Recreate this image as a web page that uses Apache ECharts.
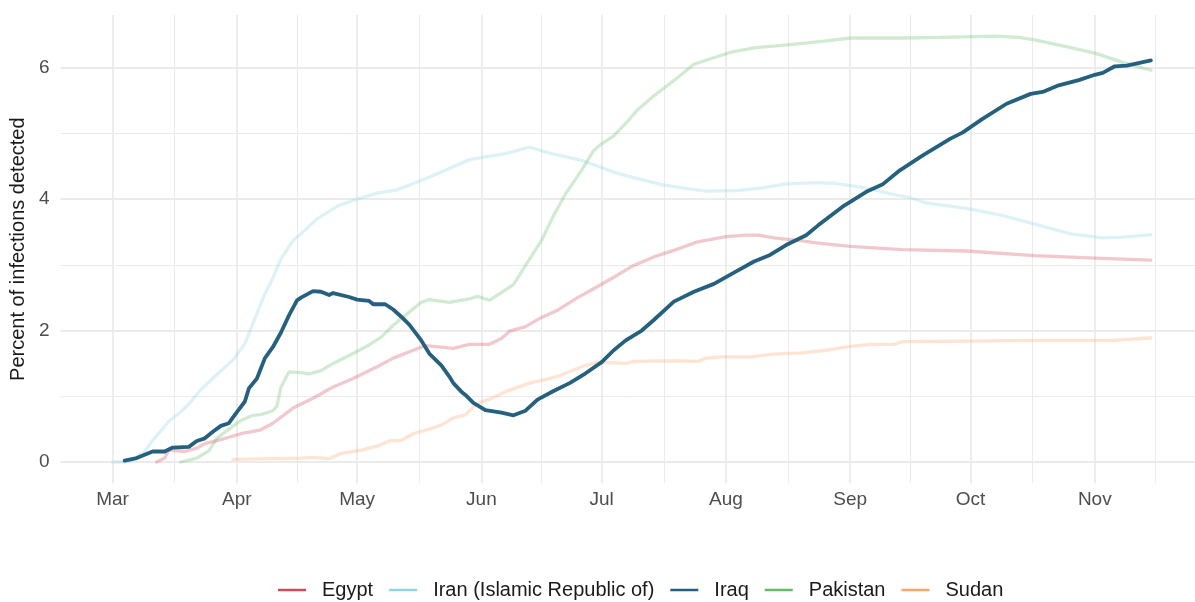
<!DOCTYPE html>
<html>
<head>
<meta charset="utf-8">
<script src="https://cdn.jsdelivr.net/npm/echarts@6/dist/echarts.min.js"></script>
<style>
html,body{margin:0;padding:0;background:#fff;}
#chart{width:1195px;height:602px;}
</style>
</head>
<body>
<div id="chart"></div>
<script>
// ---- data (date, percent of infections detected) ----
const egypt = [
 ['2020-03-12',0.00],['2020-03-14',0.06],['2020-03-15',0.18],['2020-03-19',0.16],['2020-03-22',0.21],
 ['2020-03-24',0.28],['2020-03-28',0.34],['2020-04-02',0.43],['2020-04-07',0.49],['2020-04-10',0.59],
 ['2020-04-15',0.82],['2020-04-20',0.97],['2020-04-25',1.14],['2020-04-30',1.27],['2020-05-06',1.45],
 ['2020-05-10',1.58],['2020-05-15',1.70],['2020-05-18',1.77],['2020-05-20',1.76],['2020-05-25',1.73],
 ['2020-05-29',1.79],['2020-06-03',1.79],['2020-06-06',1.88],['2020-06-08',1.99],['2020-06-12',2.06],
 ['2020-06-16',2.20],['2020-06-20',2.31],['2020-06-25',2.50],['2020-06-30',2.67],['2020-07-04',2.81],
 ['2020-07-09',2.99],['2020-07-14',3.12],['2020-07-19',3.22],['2020-07-25',3.35],['2020-08-01',3.43],
 ['2020-08-06',3.45],['2020-08-09',3.45],['2020-08-13',3.41],['2020-08-19',3.37],['2020-08-24',3.33],
 ['2020-09-01',3.28],['2020-09-14',3.23],['2020-09-30',3.21],['2020-10-17',3.14],['2020-11-01',3.10],
 ['2020-11-15',3.07]
];
const iran = [
 ['2020-03-01',0.00],['2020-03-04',0.00],['2020-03-06',0.03],['2020-03-09',0.16],['2020-03-11',0.33],
 ['2020-03-13',0.47],['2020-03-15',0.62],['2020-03-18',0.76],['2020-03-20',0.88],['2020-03-23',1.10],
 ['2020-03-27',1.33],['2020-03-31',1.55],['2020-04-03',1.80],['2020-04-06',2.26],['2020-04-08',2.56],
 ['2020-04-10',2.80],['2020-04-12',3.09],['2020-04-15',3.37],['2020-04-17',3.47],['2020-04-21',3.70],
 ['2020-04-26',3.89],['2020-05-01',4.00],['2020-05-06',4.09],['2020-05-11',4.14],['2020-05-16',4.26],
 ['2020-05-22',4.41],['2020-05-29',4.60],['2020-06-02',4.64],['2020-06-07',4.69],['2020-06-13',4.79],
 ['2020-06-18',4.70],['2020-06-26',4.59],['2020-07-04',4.41],['2020-07-08',4.34],['2020-07-12',4.28],
 ['2020-07-16',4.22],['2020-07-21',4.17],['2020-07-27',4.12],['2020-08-04',4.13],['2020-08-10',4.17],
 ['2020-08-16',4.23],['2020-08-24',4.25],['2020-08-28',4.24],['2020-09-03',4.19],['2020-09-07',4.14],
 ['2020-09-11',4.08],['2020-09-16',4.02],['2020-09-20',3.94],['2020-09-30',3.86],['2020-10-09',3.75],
 ['2020-10-17',3.62],['2020-10-26',3.47],['2020-11-03',3.41],['2020-11-08',3.42],['2020-11-15',3.46]
];
const iraq = [
 ['2020-03-04',0.02],['2020-03-07',0.06],['2020-03-11',0.16],['2020-03-14',0.16],['2020-03-16',0.22],
 ['2020-03-20',0.23],['2020-03-22',0.32],['2020-03-24',0.36],['2020-03-26',0.46],['2020-03-28',0.55],
 ['2020-03-30',0.59],['2020-04-01',0.76],['2020-04-03',0.92],['2020-04-04',1.12],['2020-04-06',1.27],
 ['2020-04-08',1.58],['2020-04-10',1.75],['2020-04-12',1.97],['2020-04-14',2.23],['2020-04-16',2.46],
 ['2020-04-17',2.50],['2020-04-20',2.60],['2020-04-22',2.59],['2020-04-24',2.54],['2020-04-25',2.57],
 ['2020-04-29',2.51],['2020-05-01',2.47],['2020-05-04',2.45],['2020-05-05',2.40],['2020-05-08',2.40],
 ['2020-05-10',2.32],['2020-05-12',2.21],['2020-05-14',2.09],['2020-05-17',1.85],['2020-05-19',1.65],
 ['2020-05-22',1.47],['2020-05-24',1.30],['2020-05-25',1.20],['2020-05-27',1.07],['2020-05-28',1.02],
 ['2020-05-30',0.90],['2020-06-02',0.79],['2020-06-06',0.75],['2020-06-09',0.71],['2020-06-12',0.78],
 ['2020-06-15',0.95],['2020-06-19',1.08],['2020-06-23',1.20],['2020-06-27',1.35],['2020-07-01',1.52],
 ['2020-07-04',1.70],['2020-07-07',1.85],['2020-07-11',2.00],['2020-07-14',2.16],['2020-07-19',2.44],
 ['2020-07-24',2.59],['2020-07-29',2.71],['2020-08-03',2.88],['2020-08-08',3.05],['2020-08-12',3.15],
 ['2020-08-16',3.30],['2020-08-21',3.45],['2020-08-24',3.60],['2020-08-30',3.88],['2020-09-05',4.11],
 ['2020-09-09',4.22],['2020-09-13',4.42],['2020-09-19',4.66],['2020-09-26',4.92],['2020-09-29',5.01],
 ['2020-10-04',5.22],['2020-10-10',5.45],['2020-10-16',5.60],['2020-10-19',5.63],['2020-10-23',5.73],
 ['2020-10-28',5.81],['2020-11-01',5.89],['2020-11-03',5.92],['2020-11-06',6.02],['2020-11-09',6.03],
 ['2020-11-15',6.11]
];
const pakistan = [
 ['2020-03-18',0.00],['2020-03-22',0.06],['2020-03-25',0.17],['2020-03-27',0.36],['2020-03-30',0.50],
 ['2020-04-02',0.63],['2020-04-05',0.71],['2020-04-07',0.72],['2020-04-10',0.78],['2020-04-11',0.85],
 ['2020-04-12',1.14],['2020-04-14',1.37],['2020-04-17',1.36],['2020-04-19',1.34],['2020-04-22',1.39],
 ['2020-04-25',1.50],['2020-04-30',1.65],['2020-05-04',1.78],['2020-05-07',1.90],['2020-05-10',2.08],
 ['2020-05-14',2.28],['2020-05-17',2.43],['2020-05-19',2.47],['2020-05-24',2.43],['2020-05-29',2.48],
 ['2020-05-31',2.52],['2020-06-03',2.46],['2020-06-07',2.62],['2020-06-09',2.70],['2020-06-12',2.99],
 ['2020-06-16',3.37],['2020-06-19',3.75],['2020-06-22',4.08],['2020-06-26',4.44],['2020-06-29',4.74],
 ['2020-07-01',4.84],['2020-07-04',4.96],['2020-07-07',5.15],['2020-07-10',5.36],['2020-07-14',5.57],
 ['2020-07-20',5.85],['2020-07-24',6.05],['2020-07-28',6.13],['2020-08-02',6.23],['2020-08-08',6.30],
 ['2020-08-17',6.35],['2020-08-25',6.40],['2020-09-01',6.45],['2020-09-14',6.45],['2020-09-24',6.46],
 ['2020-10-07',6.48],['2020-10-13',6.46],['2020-10-17',6.42],['2020-10-24',6.33],['2020-11-01',6.22],
 ['2020-11-08',6.08],['2020-11-15',5.96]
];
const sudan = [
 ['2020-03-31',0.04],['2020-04-09',0.05],['2020-04-17',0.06],['2020-04-20',0.07],['2020-04-24',0.05],
 ['2020-04-27',0.13],['2020-05-02',0.18],['2020-05-06',0.24],['2020-05-09',0.32],['2020-05-12',0.33],
 ['2020-05-15',0.43],['2020-05-19',0.50],['2020-05-22',0.56],['2020-05-25',0.67],['2020-05-28',0.72],
 ['2020-05-31',0.89],['2020-06-04',0.98],['2020-06-07',1.07],['2020-06-13',1.20],['2020-06-20',1.30],
 ['2020-06-26',1.45],['2020-06-30',1.52],['2020-07-07',1.50],['2020-07-09',1.53],['2020-07-19',1.54],
 ['2020-07-25',1.53],['2020-07-27',1.58],['2020-07-31',1.60],['2020-08-07',1.60],['2020-08-13',1.64],
 ['2020-08-20',1.66],['2020-08-26',1.70],['2020-08-31',1.75],['2020-09-06',1.79],['2020-09-12',1.79],
 ['2020-09-14',1.83],['2020-09-30',1.84],['2020-10-17',1.85],['2020-11-06',1.85],['2020-11-15',1.89]
];
const countryNames = ['Egypt','Iran (Islamic Republic of)','Iraq','Pakistan','Sudan'];
const countryColors = ['#D1495B','#8FD5E0','#25617E','#66BB6A','#F9A66C'];
const minorXBreaks = ['2020-03-16 12:00','2020-04-16 00:00','2020-05-16 12:00','2020-06-16 00:00',
  '2020-07-16 12:00','2020-08-16 12:00','2020-09-16 00:00','2020-10-16 12:00','2020-11-16 00:00'];
const minorYBreaks = [1,3,5];
const yTitle = 'Percent of infections detected';

const FONT = 'Liberation Sans, Arial, Helvetica, sans-serif';
const GRID = '#EBEBEB';

const chart = echarts.init(document.getElementById('chart'), null, {renderer:'canvas'});

function lineSeries(name, data, color, opacity, width, z){
  return {
    name, type:'line', data, z,
    showSymbol:false, symbol:'none', smooth:false,
    itemStyle:{color},
    lineStyle:{color, width, opacity, cap:'round', join:'round'},
    emphasis:{disabled:true}, silent:true
  };
}

const minorLines = [];
minorXBreaks.forEach(d => minorLines.push({xAxis: d}));
minorYBreaks.forEach(v => minorLines.push({yAxis: v}));

chart.setOption({
  animation:false,
  backgroundColor:'#ffffff',
  textStyle:{fontFamily:FONT},
  grid:{left:59, right:0, top:15, bottom:118.7, containLabel:false},
  xAxis:{
    type:'time',
    min:'2020-02-17', max:'2020-11-26',
    splitNumber:9,
    axisLine:{show:false}, axisTick:{show:false},
    axisLabel:{formatter:'{MMM}', color:'#4D4D4D', fontSize:19, fontFamily:FONT, margin:7,
      showMinLabel:false, showMaxLabel:false, hideOverlap:false},
    splitLine:{show:true, showMinLine:false, showMaxLine:false, lineStyle:{color:GRID, width:1.8}}
  },
  yAxis:{
    type:'value', min:-0.324, max:6.80, splitNumber:4,
    axisLine:{show:false}, axisTick:{show:false},
    axisLabel:{color:'#4D4D4D', fontSize:19, fontFamily:FONT, margin:11,
      showMinLabel:false, showMaxLabel:false},
    splitLine:{show:true, showMinLine:false, showMaxLine:false, lineStyle:{color:GRID, width:1.8}},
    name:yTitle, nameLocation:'middle', nameRotate:90, nameGap:31,
    nameTextStyle:{color:'#1A1A1A', fontSize:20, fontFamily:FONT}
  },
  legend:{
    data:countryNames.map((n,i)=>({name:n, itemStyle:{color:countryColors[i], opacity:1}})),
    left:273, top:575, orient:'horizontal',
    icon:'rect', itemWidth:28, itemHeight:2.5, itemGap:16,
    textStyle:{color:'#1A1A1A', fontSize:20, fontFamily:FONT, padding:[0,0,0,11]},
    selectedMode:false
  },
  series:[
    {
      name:'_grid', type:'line', data:[], z:1, silent:true, symbol:'none',
      markLine:{silent:true, z:1, zlevel:0, symbol:['none','none'], label:{show:false}, animation:false,
        lineStyle:{color:GRID, width:1, type:'solid', opacity:1}, emphasis:{disabled:true},
        data:minorLines}
    },
    lineSeries(countryNames[0], egypt, countryColors[0], 0.3, 3.3, 3),
    lineSeries(countryNames[1], iran, countryColors[1], 0.3, 3.3, 3),
    lineSeries(countryNames[3], pakistan, countryColors[3], 0.3, 3.3, 3),
    lineSeries(countryNames[4], sudan, countryColors[4], 0.3, 3.3, 3),
    lineSeries(countryNames[2], iraq, countryColors[2], 1, 3.8, 4)
  ]
});
</script>
</body>
</html>
